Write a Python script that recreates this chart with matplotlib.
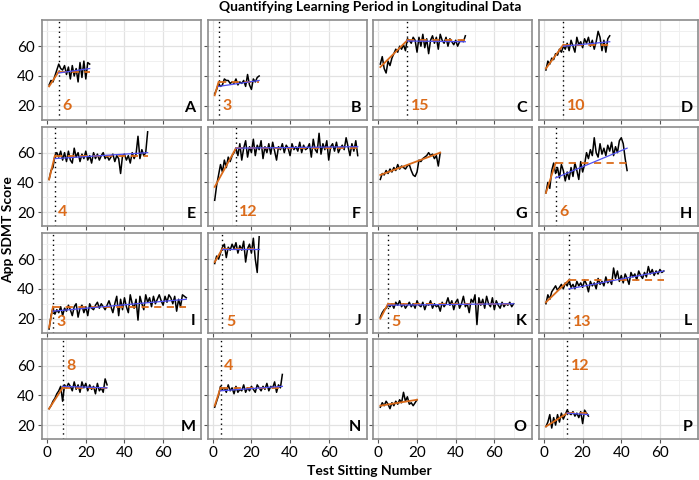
import numpy as np
import matplotlib.pyplot as plt

plt.rcParams['font.family'] = ['Lato', 'DejaVu Sans']

# raw scores for each participant (A..P)
score_A = [34, 37, 36, 40, 44, 48, 45, 44, 47, 41, 46, 38, 47, 40, 45, 36, 49, 39, 50, 38, 49, 48]
score_B = [28, 31, 35, 33, 34, 38, 37, 37, 35, 36, 35, 38, 34, 36, 35, 37, 33, 41, 34, 31, 38, 36, 39, 40]
score_C = [48, 53, 45, 42, 50, 47, 52, 55, 58, 56, 60, 58, 61, 57, 65, 64, 62, 66, 64, 56, 66, 60, 68,
           59, 65, 55, 64, 67, 62, 66, 58, 68, 64, 62, 66, 60, 65, 63, 61, 64, 60, 63, 64, 63, 67]
score_D = [44, 50, 48, 52, 51, 55, 54, 58, 56, 60, 58, 62, 57, 64, 60, 56, 66, 61, 63, 59, 65, 62, 66,
           60, 64, 58, 63, 70, 66, 57, 64, 56, 65, 67]
score_E = [42, 48, 50, 58, 60, 57, 61, 55, 60, 54, 61, 55, 53, 63, 57, 60, 54, 59, 56, 61, 55, 58, 53,
           60, 56, 59, 55, 58, 60, 56, 58, 55, 57, 59, 54, 58, 56, 46, 58, 59, 55, 58, 53, 60, 56, 59,
           71, 56, 62, 58, 60, 74]
score_F = [28, 38, 45, 52, 47, 55, 50, 57, 54, 58, 60, 63, 58, 66, 55, 63, 68, 57, 64, 60, 69, 58, 65,
           62, 68, 56, 64, 60, 66, 59, 67, 61, 55, 64, 62, 66, 60, 65, 63, 58, 66, 62, 64, 61, 67, 60,
           65, 62, 63, 66, 57, 69, 62, 60, 73, 59, 66, 62, 68, 55, 64, 66, 61, 67, 60, 63, 65, 62, 70,
           64, 58, 66, 61, 68, 58]
score_G = [42, 46, 45, 48, 46, 49, 47, 50, 48, 52, 49, 51, 50, 49, 51, 52, 48, 45, 44, 47, 55, 54, 56,
           57, 58, 60, 58, 59, 56, 58, 51, 60]
score_H = [33, 40, 36, 48, 53, 46, 50, 43, 52, 48, 41, 47, 42, 50, 44, 53, 48, 42, 54, 47, 52, 60, 56,
           62, 58, 70, 60, 57, 66, 59, 63, 58, 65, 61, 67, 58, 64, 60, 68, 70, 66, 56, 48]
score_I = [13, 22, 27, 23, 26, 24, 28, 22, 27, 25, 29, 26, 22, 28, 30, 21, 27, 29, 24, 28, 22, 30, 27,
           26, 29, 31, 27, 30, 28, 26, 29, 32, 28, 24, 30, 35, 22, 33, 26, 34, 28, 24, 36, 30, 27, 33,
           19, 35, 30, 26, 36, 31, 34, 28, 35, 30, 33, 36, 32, 29, 35, 31, 36, 34, 30, 35, 25, 33, 28,
           36, 35, 34]
score_J = [57, 62, 60, 64, 68, 70, 61, 68, 66, 70, 67, 71, 64, 69, 66, 72, 58, 67, 70, 64, 74, 60, 51, 75]
score_K = [21, 24, 26, 27, 29, 28, 30, 27, 31, 29, 32, 28, 30, 27, 29, 31, 28, 30, 27, 32, 29, 28, 31,
           26, 30, 29, 32, 27, 30, 28, 29, 25, 31, 28, 30, 34, 29, 32, 26, 31, 33, 27, 30, 35, 28, 30,
           24, 33, 31, 36, 16, 34, 29, 33, 27, 35, 30, 28, 34, 26, 32, 29, 27, 31, 28, 30, 29, 31, 28, 30]
score_L = [30, 36, 33, 38, 40, 42, 39, 41, 43, 40, 44, 42, 46, 41, 43, 40, 45, 42, 44, 41, 46, 43, 38,
           45, 42, 44, 40, 47, 43, 45, 42, 48, 44, 46, 43, 54, 47, 52, 45, 49, 44, 50, 47, 43, 51, 48,
           50, 46, 52, 49, 47, 51, 48, 55, 50, 53, 49, 52, 50, 53, 51, 52]
score_M = [31, 33, 36, 38, 41, 43, 46, 36, 47, 45, 48, 46, 43, 49, 44, 47, 42, 49, 45, 48, 43, 47, 44,
           46, 41, 48, 43, 45, 42, 51, 47]
score_N = [32, 36, 40, 46, 44, 45, 42, 47, 43, 45, 41, 46, 42, 44, 43, 47, 42, 45, 43, 46, 44, 42, 47,
           45, 43, 46, 44, 48, 43, 46, 45, 49, 42, 47, 45, 54]
score_O = [32, 35, 33, 36, 34, 31, 35, 33, 36, 34, 37, 35, 42, 36, 39, 34, 35, 33, 35, 37]
score_P = [19, 22, 27, 18, 25, 20, 27, 22, 28, 24, 27, 30, 28, 27, 29, 26, 28, 25, 29, 21, 30, 28, 26]

letters = list("ABCDEFGHIJKLMNOP")
scores = [score_A, score_B, score_C, score_D, score_E, score_F, score_G, score_H,
          score_I, score_J, score_K, score_L, score_M, score_N, score_O, score_P]

# learning period length (None = no change point found)
change_points = [6, 3, 15, 10, 4, 12, None, 6, 3, 5, 5, 13, 8, 4, None, 12]
# orange fit: value at first sitting, value at change point (plateau)
learn_start = [33, 27, 46, 45, 42, 37, 45, 33, 14, 58, 20, 31, 31, 33, 33, 19]
plateau = [43, 36, 64, 61, 58, 63, 60, 53, 28, 67, 30, 46, 45, 45, 37, 28]
# blue fit after the change point: start and end values
post_start = [42, 33, 63.5, 60, 56, 63, None, 43, 25, 67, 29, 40, 46, 43, None, 28]
post_end = [45, 37, 63, 63, 60, 64, None, 63, 33, 67, 30, 52, 45, 46, None, 27]
label_y = [20, 20, 20, 20, 20, 20, 20, 20, 18, 18, 18, 18, 60, 60, 60, 60]

orange = '#DB6B1A'
blue = '#4F4FF0'

fig, axes = plt.subplots(4, 4, figsize=(6.99, 4.8), dpi=100, sharex=True, sharey=True)
fig.subplots_adjust(left=0.06, right=0.9986, top=0.958, bottom=0.085, wspace=0.04, hspace=0.067)

for i, ax in enumerate(axes.flat):
    y = np.array(scores[i])
    x = np.arange(1, len(y) + 1)
    cp = change_points[i]

    ax.plot(x, y, color='black', lw=1.1, zorder=3)
    if cp is None:
        ax.plot([1, len(y)], [learn_start[i], plateau[i]], color=orange, lw=1.3, zorder=4)
    else:
        ax.plot([1, cp], [learn_start[i], plateau[i]], color=orange, lw=1.3, zorder=4)
        ax.plot([cp, len(y)], [plateau[i], plateau[i]], color=orange, lw=1.3, ls=(0, (4, 3)), zorder=4)
        ax.plot([cp, len(y)], [post_start[i], post_end[i]], color=blue, lw=0.9, zorder=5)
        ax.axvline(cp, color='black', ls=(0, (1, 2.5)), lw=1.0, zorder=2)
        ax.text(cp + 1.8, label_y[i], str(cp), color=orange, fontsize=11.5, fontweight='bold',
                ha='left', va='center', zorder=6)

    ax.text(0.965, 0.05, letters[i], transform=ax.transAxes, ha='right', va='bottom',
            fontsize=11.5, fontweight='bold')

    ax.set_xlim(-2.7, 79.7)
    ax.set_ylim(10.5, 77.5)
    ax.set_xticks([0, 20, 40, 60])
    ax.set_yticks([20, 40, 60])
    ax.set_xticks([10, 30, 50, 70], minor=True)
    ax.set_yticks([30, 50, 70], minor=True)
    ax.grid(True, which='major', color='#E2E2E2', lw=0.9, zorder=0)
    ax.grid(True, which='minor', color='#F0F0F0', lw=0.7, zorder=0)
    ax.set_axisbelow(True)
    ax.tick_params(which='minor', length=0)
    ax.tick_params(which='major', length=3, color='#555555', labelsize=11, pad=2)
    for s in ax.spines.values():
        s.set_color('#8C8C8C')
        s.set_linewidth(1.2)

fig.text(0.529, 0.985, 'Quantifying Learning Period in Longitudinal Data', ha='center', va='center',
         fontsize=10, fontweight='bold')
fig.text(0.529, 0.018, 'Test Sitting Number', ha='center', va='center', fontsize=10, fontweight='bold')
fig.text(0.011, 0.522, 'App SDMT Score', ha='center', va='center', rotation=90, fontsize=10,
         fontweight='bold')

fig.savefig('out.png', dpi=100)
